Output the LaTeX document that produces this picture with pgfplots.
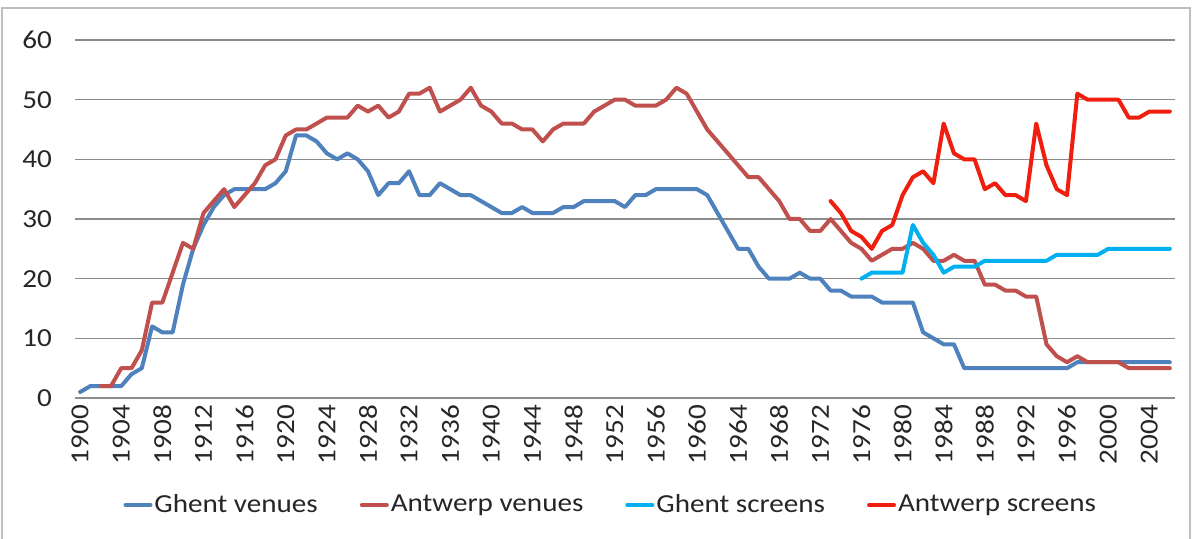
\documentclass[border=0pt]{standalone}
\usepackage{fontspec}
\setmainfont{Carlito}[FakeStretch=1.12]
\usepackage{pgfplots}
\usepackage{pgfplotstable}
\pgfplotsset{compat=1.18}
\definecolor{ghentv}{HTML}{4F81BD}
\definecolor{antwv}{HTML}{C0504D}
\definecolor{ghents}{HTML}{00B0F0}
\definecolor{antws}{HTML}{F01E0E}
\definecolor{gridgray}{HTML}{8C8C8C}
\definecolor{bordergray}{HTML}{BFBFBF}

\pgfplotstableread{
year val
1900 1
1901 2
1902 2
1903 2
1904 2
1905 4
1906 5
1907 12
1908 11
1909 11
1910 19
1911 25
1912 29
1913 32
1914 34
1915 35
1916 35
1917 35
1918 35
1919 36
1920 38
1921 44
1922 44
1923 43
1924 41
1925 40
1926 41
1927 40
1928 38
1929 34
1930 36
1931 36
1932 38
1933 34
1934 34
1935 36
1936 35
1937 34
1938 34
1939 33
1940 32
1941 31
1942 31
1943 32
1944 31
1945 31
1946 31
1947 32
1948 32
1949 33
1950 33
1951 33
1952 33
1953 32
1954 34
1955 34
1956 35
1957 35
1958 35
1959 35
1960 35
1961 34
1962 31
1963 28
1964 25
1965 25
1966 22
1967 20
1968 20
1969 20
1970 21
1971 20
1972 20
1973 18
1974 18
1975 17
1976 17
1977 17
1978 16
1979 16
1980 16
1981 16
1982 11
1983 10
1984 9
1985 9
1986 5
1987 5
1988 5
1989 5
1990 5
1991 5
1992 5
1993 5
1994 5
1995 5
1996 5
1997 6
1998 6
1999 6
2000 6
2001 6
2002 6
2003 6
2004 6
2005 6
2006 6
}\ghentvenues

\pgfplotstableread{
year val
1902 2
1903 2
1904 5
1905 5
1906 8
1907 16
1908 16
1909 21
1910 26
1911 25
1912 31
1913 33
1914 35
1915 32
1916 34
1917 36
1918 39
1919 40
1920 44
1921 45
1922 45
1923 46
1924 47
1925 47
1926 47
1927 49
1928 48
1929 49
1930 47
1931 48
1932 51
1933 51
1934 52
1935 48
1936 49
1937 50
1938 52
1939 49
1940 48
1941 46
1942 46
1943 45
1944 45
1945 43
1946 45
1947 46
1948 46
1949 46
1950 48
1951 49
1952 50
1953 50
1954 49
1955 49
1956 49
1957 50
1958 52
1959 51
1960 48
1961 45
1962 43
1963 41
1964 39
1965 37
1966 37
1967 35
1968 33
1969 30
1970 30
1971 28
1972 28
1973 30
1974 28
1975 26
1976 25
1977 23
1978 24
1979 25
1980 25
1981 26
1982 25
1983 23
1984 23
1985 24
1986 23
1987 23
1988 19
1989 19
1990 18
1991 18
1992 17
1993 17
1994 9
1995 7
1996 6
1997 7
1998 6
1999 6
2000 6
2001 6
2002 5
2003 5
2004 5
2005 5
2006 5
}\antwerpvenues

\pgfplotstableread{
year val
1976 20
1977 21
1978 21
1979 21
1980 21
1981 29
1982 26
1983 24
1984 21
1985 22
1986 22
1987 22
1988 23
1989 23
1990 23
1991 23
1992 23
1993 23
1994 23
1995 24
1996 24
1997 24
1998 24
1999 24
2000 25
2001 25
2002 25
2003 25
2004 25
2005 25
2006 25
}\ghentscreens

\pgfplotstableread{
year val
1973 33
1974 31
1975 28
1976 27
1977 25
1978 28
1979 29
1980 34
1981 37
1982 38
1983 36
1984 46
1985 41
1986 40
1987 40
1988 35
1989 36
1990 34
1991 34
1992 33
1993 46
1994 39
1995 35
1996 34
1997 51
1998 50
1999 50
2000 50
2001 50
2002 47
2003 47
2004 48
2005 48
2006 48
}\antwerpscreens

\begin{document}
\begin{tikzpicture}
\useasboundingbox (-37.5pt,-70.5pt) rectangle (563pt,199pt);
\fill[white] (-37.5pt,-70.5pt) rectangle (563pt,199pt);
\draw[bordergray, line width=0.8pt] (-36.5pt,-80pt) -- (-36.5pt,195pt) -- (557.5pt,195pt) -- (557.5pt,-80pt);
\begin{axis}[
  at={(0pt,0pt)}, anchor=south west,
  scale only axis, width=550pt, height=179pt,
  xmin=1899.5, xmax=2006.5, ymin=0, ymax=60,
  xtick={1900,1904,...,2004},
  ytick={0,10,...,60},
  /pgf/number format/set thousands separator={},
  /pgf/number format/assume math mode=true,
  ymajorgrids,
  grid style={draw=gridgray, line width=0.65pt},
  axis lines*=left,
  y axis line style={draw=none},
  x axis line style={draw=gridgray, line width=0.65pt},
  major tick length=0pt,
  tick style={draw=none},
  tick label style={font=\fontsize{13}{15}\selectfont, text=black!85},
  xticklabel style={rotate=90, anchor=east, xshift=0pt},
  yticklabel style={anchor=east, xshift=-8pt},
  legend columns=4,
  legend style={draw=none, fill=none, at={(0.487,-0.299)}, anchor=center,
    font=\fontsize{13}{15}\selectfont, text=black!85,
    /tikz/every even column/.append style={column sep=20pt},
    nodes={inner sep=1pt}},
  legend image code/.code={\draw[#1, line width=2pt] (0pt,0pt) -- (12.5pt,0pt);},
  every axis plot/.append style={line width=2pt, line join=round, line cap=round},
]
\addplot[ghentv, mark=none] table[x=year, y=val] {\ghentvenues};
\addlegendentry{Ghent venues}
\addplot[antwv, mark=none] table[x=year, y=val] {\antwerpvenues};
\addlegendentry{Antwerp venues}
\addplot[ghents, mark=none] table[x=year, y=val] {\ghentscreens};
\addlegendentry{Ghent screens}
\addplot[antws, mark=none] table[x=year, y=val] {\antwerpscreens};
\addlegendentry{Antwerp screens}
\end{axis}
\end{tikzpicture}
\end{document}
